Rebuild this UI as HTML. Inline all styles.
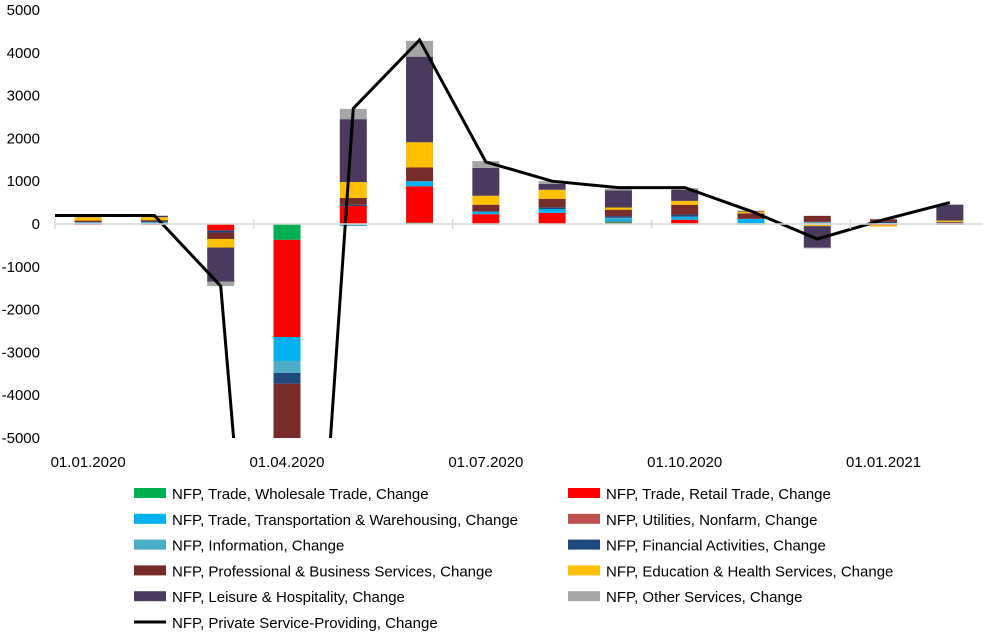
<!DOCTYPE html>
<html><head><meta charset="utf-8">
<style>
html,body{margin:0;padding:0;background:#fff;overflow:hidden;width:993px;height:640px;}
svg{display:block;}
svg text{font-family:"Liberation Sans",sans-serif;font-size:15px;fill:#000;}
</style></head>
<body>
<svg id="chart" width="993" height="640"></svg>
<script>
const categories=["01.01.2020","01.02.2020","01.03.2020","01.04.2020","01.05.2020","01.06.2020","01.07.2020","01.08.2020","01.09.2020","01.10.2020","01.11.2020","01.12.2020","01.01.2021","01.02.2021"];
const seriesNames=["NFP, Trade, Wholesale Trade, Change","NFP, Trade, Retail Trade, Change","NFP, Trade, Transportation & Warehousing, Change","NFP, Utilities, Nonfarm, Change","NFP, Information, Change","NFP, Financial Activities, Change","NFP, Professional & Business Services, Change","NFP, Education & Health Services, Change","NFP, Leisure & Hospitality, Change","NFP, Other Services, Change"];
const seriesColors=["#00b050","#ff0000","#00b0f0","#c0504d","#4bacc6","#1f497d","#772c2a","#ffc000","#4b3a5e","#a5a5a5"];
const wholesale=[0,0,0,-370,0,30,0,0,40,0,0,0,0,0];
const retail=[-20,-20,-150,-2270,420,850,230,260,15,100,0,20,-30,20];
const transport=[30,30,0,-560,0,120,60,90,50,70,120,-20,20,10];
const utilities=[0,0,0,0,0,-10,0,0,0,0,0,0,0,0];
const information=[10,10,0,-280,-50,0,-20,0,40,-20,-20,30,0,0];
const financial=[0,20,-50,-250,30,0,0,40,40,50,0,0,30,-20];
const professional=[40,30,-150,-2100,160,320,160,200,150,230,130,140,60,20];
const education=[80,70,-200,-2500,370,590,210,210,50,90,40,-30,-30,30];
const leisure=[20,30,-800,-8300,1470,2000,650,140,400,260,15,-500,0,370];
const other=[10,10,-100,-650,240,370,160,60,40,40,10,-20,10,10];
const privateService=[200,200,-1450,-19700,2700,4300,1450,1000,850,850,300,-350,100,500];
const yTicks=[5000,4000,3000,2000,1000,0,-1000,-2000,-3000,-4000,-5000];
const xLabelIdx=[0,3,6,9,12];

const series=[wholesale,retail,transport,utilities,information,financial,professional,education,leisure,other];
const NS="http://www.w3.org/2000/svg";
const svg=document.getElementById("chart");
const L=55,R=983,T=10,B=438,yMax=5000,yMin=-5000;
const step=(R-L)/categories.length;
function xPos(i){return L+step*(i+0.5);}
function yPos(v){return T+(yMax-v)/(yMax-yMin)*(B-T);}
function mk(tag,attrs,parent){const e=document.createElementNS(NS,tag);for(const k in attrs)e.setAttribute(k,attrs[k]);(parent||svg).appendChild(e);return e;}

const defs=mk("defs",{});
const cp=mk("clipPath",{id:"plotclip"},defs);
mk("rect",{x:L-40,y:T-5,width:R-L+50,height:B-T+5},cp);

yTicks.forEach(v=>{const t=mk("text",{x:40,y:yPos(v)+5,"text-anchor":"end"});t.textContent=v;

});

const plot=mk("g",{"clip-path":"url(#plotclip)"});


const bw=27;
categories.forEach((c,i)=>{let pos=0,neg=0;
series.forEach((s,k)=>{const v=s[i];if(!v)return;let y0,y1;
if(v>0){y0=pos;y1=pos+v;pos=y1;}else{y0=neg;y1=neg+v;neg=y1;}
const r=mk("rect",{x:xPos(i)-bw/2,y:Math.min(yPos(y0),yPos(y1)),width:bw,height:Math.abs(yPos(y0)-yPos(y1)),fill:seriesColors[k]},plot);

});});

const ax=mk("line",{x1:L,x2:R,y1:yPos(0),y2:yPos(0),stroke:"#d9d9d9","stroke-width":1.5});


for(let i=0;i<=categories.length;i+=3){mk("line",{x1:L+step*i,x2:L+step*i,y1:yPos(0)-5,y2:yPos(0)+5,stroke:"#d9d9d9","stroke-width":1.5});}

let d="M"+L+","+yPos(privateService[0]);
privateService.forEach((v,i)=>{d+=" L"+xPos(i)+","+yPos(v);});
const ln=mk("path",{d:d,fill:"none",stroke:"#000","stroke-width":3,"stroke-linejoin":"miter"},plot);



xLabelIdx.forEach(i=>{const t=mk("text",{x:xPos(i),y:467,"text-anchor":"middle"});t.textContent=categories[i];

});

const items=seriesNames.map((n,k)=>({n:n,c:seriesColors[k],line:false}));
items.push({n:"NFP, Private Service-Providing, Change",c:"#000",line:true});
items.forEach((it,k)=>{const col=k%2,row=Math.floor(k/2);
const sx=col?568:134,ty=498+row*25.8;
const g=mk("g",{});


if(it.line)mk("line",{x1:sx,x2:sx+32,y1:ty-5,y2:ty-5,stroke:"#000","stroke-width":3},g);
else mk("rect",{x:sx,y:ty-10,width:32,height:10,fill:it.c},g);
const t=mk("text",{x:sx+38,y:ty+1},g);t.textContent=it.n;});
</script>
</body></html>
